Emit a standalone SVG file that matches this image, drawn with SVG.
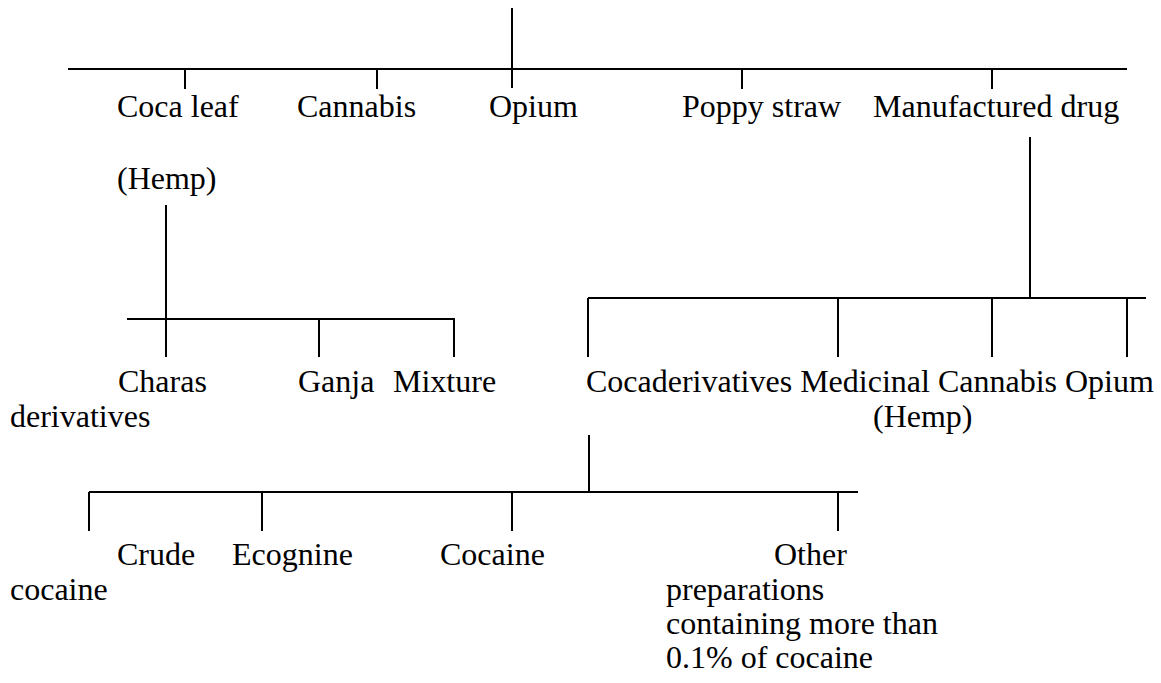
<svg xmlns="http://www.w3.org/2000/svg" width="1161" height="683" viewBox="0 0 1161 683">
<style>
.c line{stroke:#000;stroke-width:2;fill:none}
text{font-family:"Liberation Serif","Times New Roman",serif;font-size:32px;fill:#000}
</style>
<rect width="1161" height="683" fill="#fff"/>
<g class="c" id="connectors">
<line x1="512" y1="8" x2="512" y2="88"/>
<line x1="68" y1="69" x2="1127" y2="69"/>
<line x1="185" y1="69" x2="185" y2="89"/>
<line x1="377" y1="69" x2="377" y2="89"/>
<line x1="742" y1="69" x2="742" y2="89"/>
<line x1="992" y1="69" x2="992" y2="89"/>
<line x1="166" y1="205" x2="166" y2="357"/>
<line x1="127" y1="319" x2="455" y2="319"/>
<line x1="319" y1="319" x2="319" y2="357"/>
<line x1="454" y1="319" x2="454" y2="357"/>
<line x1="1030" y1="137" x2="1030" y2="298"/>
<line x1="588" y1="298" x2="1146" y2="298"/>
<line x1="588" y1="298" x2="588" y2="357"/>
<line x1="838" y1="298" x2="838" y2="357"/>
<line x1="992" y1="298" x2="992" y2="357"/>
<line x1="1127" y1="298" x2="1127" y2="357"/>
<line x1="589" y1="435" x2="589" y2="492"/>
<line x1="89" y1="492" x2="858" y2="492"/>
<line x1="89" y1="492" x2="89" y2="531"/>
<line x1="262" y1="492" x2="262" y2="531"/>
<line x1="512" y1="492" x2="512" y2="531"/>
<line x1="838" y1="492" x2="838" y2="531"/>
</g>
<g id="coca-leaf"><text x="117" y="117">Coca leaf</text></g>
<g id="cannabis"><text x="297" y="117">Cannabis</text><text x="117" y="189">(Hemp)</text></g>
<g id="opium"><text x="489" y="117">Opium</text></g>
<g id="poppy-straw"><text x="682" y="117">Poppy straw</text></g>
<g id="manufactured-drug"><text x="873" y="117">Manufactured drug</text></g>
<g id="charas"><text x="118" y="392">Charas</text><text x="10" y="427">derivatives</text></g>
<g id="ganja"><text x="298" y="392">Ganja</text></g>
<g id="mixture"><text x="393" y="392">Mixture</text></g>
<g id="manufactured-children"><text x="586" y="392">Cocaderivatives Medicinal Cannabis Opium</text><text x="873" y="427">(Hemp)</text></g>
<g id="crude-cocaine"><text x="117" y="565">Crude</text><text x="10" y="600">cocaine</text></g>
<g id="ecognine"><text x="232" y="565">Ecognine</text></g>
<g id="cocaine"><text x="440" y="565">Cocaine</text></g>
<g id="other"><text x="774" y="565">Other</text><text x="666" y="600">preparations</text><text x="666" y="634">containing more than</text><text x="666" y="668">0.1% of cocaine</text></g>
</svg>
